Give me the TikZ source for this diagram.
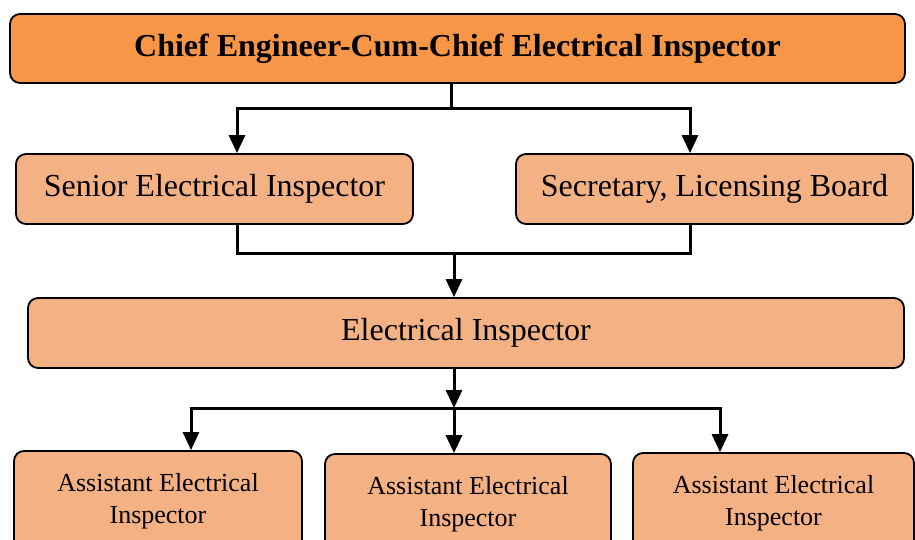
\documentclass[tikz,border=0pt]{standalone}
\usepackage{fontspec}
\setmainfont{Liberation Serif}
\usetikzlibrary{arrows.meta, positioning}

\definecolor{chieforange}{HTML}{F79646}
\definecolor{postorange}{HTML}{F4B183}

\begin{document}
\begin{tikzpicture}[x=1pt, y=-1pt,
  box/.style={draw=black, line width=1.8pt, rounded corners=10pt, inner sep=0pt},
  chief/.style={box, fill=chieforange, minimum width=895pt, minimum height=69pt,
    font=\fontsize{32}{38}\selectfont\bfseries},
  post/.style={box, fill=postorange, minimum width=397pt, minimum height=70pt,
    font=\fontsize{32}{38}\selectfont},
  assist/.style={box, fill=postorange, minimum height=100pt, align=center,
    font=\fontsize{26}{32}\selectfont},
  link/.style={line width=3pt},
  arrow/.style={link, -{Triangle[length=18pt 0 0, width=16pt 0 0]}}]

\clip (0,0) rectangle (915,540);

% Boxes
\node[chief] (chief) at (457.5,48.5) {Chief Engineer-Cum-Chief Electrical Inspector};
\node[post] (senior) at (214.5,189) {Senior Electrical Inspector};
\node[post] (secretary) at (714.5,189) {Secretary, Licensing Board};
\node[post, minimum width=876pt] (inspector) at (466,333) {Electrical Inspector};
\node[assist, minimum width=288pt] (assist1) at (158,501) {Assistant Electrical\\Inspector};
\node[assist, minimum width=286pt] (assist2) at (468,504) {Assistant Electrical\\Inspector};
\node[assist, minimum width=281pt] (assist3) at (773.5,503) {Assistant Electrical\\Inspector};

% Junctions
\coordinate (split1) at (451,109);
\coordinate (join) at (454,253);
\coordinate (split2) at (454,408);

% Chief to second level
\draw[link] (chief.south -| split1) -- (split1);
\draw[arrow] (split1) -| ([xshift=22.5pt]senior.north);
\draw[arrow] (split1) -| ([xshift=-24.5pt]secretary.north);

% Second level to inspector
\draw[link] ([xshift=22.5pt]senior.south) |- (join) -| ([xshift=-24.5pt]secretary.south);
\draw[arrow] (join) -- (inspector.north -| join);

% Inspector to assistants
\draw[arrow] (inspector.south -| split2) -- (split2);
\draw[arrow] (split2) -| ([xshift=33pt]assist1.north);
\draw[arrow] (split2) -- (assist2.north -| split2);
\draw[arrow] (split2) -| ([xshift=-53.5pt]assist3.north);

\end{tikzpicture}
\end{document}
